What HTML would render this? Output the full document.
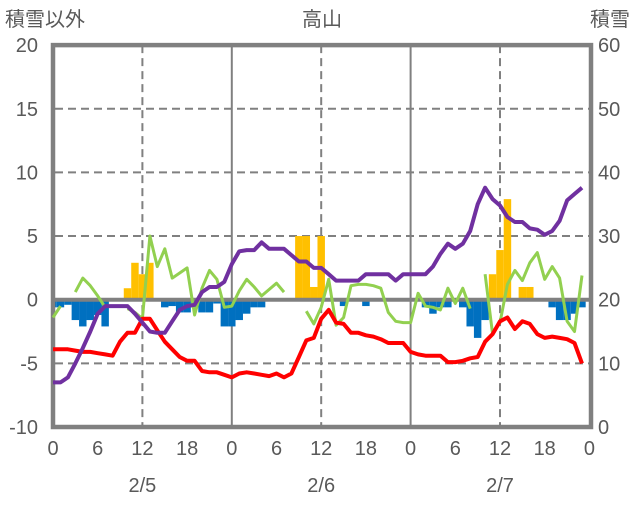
<!DOCTYPE html>
<html><head><meta charset="utf-8">
<style>
html,body{margin:0;padding:0;background:#fff;}
svg text{font-family:"Liberation Sans","Noto Sans CJK JP",sans-serif;fill:#595959;}
</style></head>
<body>
<svg id="chart" width="636" height="501" viewBox="0 0 636 501" xmlns="http://www.w3.org/2000/svg">
<g id="grid"></g>
<g id="bars"></g>
<g id="frame"></g>
<g id="lines"></g>
<g id="labels"></g>
<text x="5" y="26" font-size="20">積雪以外</text>
<text x="322" y="26" font-size="20" text-anchor="middle">高山</text>
<text x="630" y="26" font-size="20" text-anchor="end">積雪</text>
</svg>
<script>
const hours = Array.from({length:72},(_,i)=>i);
const purple = [-6.5,-6.5,-6.1,-5.0,-3.8,-2.5,-1.1,-0.5,-0.5,-0.5,-0.5,-1.1,-1.8,-2.5,-2.6,-2.6,-1.7,-0.8,-0.5,-0.4,0.6,1.0,1.0,1.4,2.8,3.8,3.9,3.9,4.5,4.0,4.0,4.0,3.5,3.0,3.0,2.5,2.5,2.0,1.5,1.5,1.5,1.5,2.0,2.0,2.0,2.0,1.5,2.0,2.0,2.0,2.0,2.6,3.6,4.4,4.0,4.4,5.4,7.5,8.8,7.9,7.4,6.5,6.1,6.1,5.6,5.5,5.1,5.4,6.2,7.8,8.3,8.8];
const red = [-3.9,-3.9,-3.9,-4.0,-4.1,-4.1,-4.2,-4.3,-4.4,-3.3,-2.6,-2.6,-1.5,-1.5,-2.4,-3.3,-3.9,-4.5,-4.8,-4.8,-5.6,-5.7,-5.7,-5.9,-6.1,-5.8,-5.7,-5.8,-5.9,-6.0,-5.8,-6.1,-5.8,-4.5,-3.2,-3.0,-1.5,-0.8,-1.8,-1.9,-2.6,-2.6,-2.8,-2.9,-3.1,-3.4,-3.4,-3.4,-4.1,-4.3,-4.4,-4.4,-4.4,-4.9,-4.9,-4.8,-4.6,-4.5,-3.3,-2.7,-1.7,-1.4,-2.3,-1.7,-1.9,-2.7,-3.0,-2.9,-3.0,-3.1,-3.4,-5.0];
const green = [-1.4,-0.5,null,0.6,1.7,1.1,0.3,-0.6,null,null,-0.7,-1.0,-1.5,5.0,2.6,4.0,1.7,2.1,2.5,-1.2,0.9,2.3,1.6,-0.6,-0.5,0.7,1.6,1.0,0.3,0.8,1.3,0.6,null,null,-0.9,-1.9,-0.6,1.6,-2.0,-1.4,1.1,1.2,1.2,1.1,0.9,-1.0,-1.7,-1.8,-1.8,0.5,-0.5,-0.6,-0.8,0.9,-0.3,0.9,-0.7,null,2.0,-2.7,-1.8,1.2,2.3,1.5,2.9,3.7,1.6,2.6,1.7,-1.7,-2.5,1.9];
const blue = [-0.6,-0.6,-0.4,-1.6,-2.1,-1.6,-1.2,-2.1,0,0,0,0,0,0,0,-0.6,-0.5,-1.0,-1.0,-0.6,-1.0,-1.0,-0.3,-2.1,-2.1,-1.6,-1.1,-0.6,-0.6,0,0,0,0,0,0,0,0,0,0,-0.5,0,0,-0.5,0,0,0,0,0,0,0,-0.6,-1.1,-0.6,-0.6,0,-0.6,-2.1,-3.0,-1.6,0,0,0,0,0,0,0,0,-0.6,-1.6,-1.6,-1.1,-0.6];
const orange = [0,0,0,0,0,0,0,0,0,0,0.9,2.9,2.0,2.9,0,0,0,0,0,0,0,0,0,0,0,0,0,0,0,0,0,0,0,5.0,5.0,1.0,5.0,0,0,0,0,0,0,0,0,0,0,0,0,0,0,0,0,0,0,0,0,0,0,2.0,3.9,7.9,0,1.0,1.0,0,0,0,0,0,0,0];
const leftTicks = [20,15,10,5,0,-5,-10];
const rightTicks = [60,50,40,30,20,10,0];
const xTickLabels = ['0','6','12','18','0','6','12','18','0','6','12','18','0'];
const dateLabels = ['2/5','2/6','2/7'];

const NS='http://www.w3.org/2000/svg';
const X0=53, PX=7.45, L=55, R=590;
const x = h => X0 + h*PX;
const y = v => 299.7 - v*12.73;
function mk(tag, attrs, parent){const e=document.createElementNS(NS,tag);for(const k in attrs)e.setAttribute(k,attrs[k]);parent.appendChild(e);return e;}
const grid=document.getElementById('grid'), bars=document.getElementById('bars'), frame=document.getElementById('frame'), lines=document.getElementById('lines'), labels=document.getElementById('labels');

[15,10,5,-5].forEach(v=>{
  const l=mk('line',{x1:L,x2:R,y1:y(v),y2:y(v),stroke:'#808080','stroke-width':2,'stroke-dasharray':'8,5'},grid);
  
  
});
[12,36,60].forEach(h=>{
  const l=mk('line',{x1:x(h),x2:x(h),y1:y(20),y2:y(-10),stroke:'#808080','stroke-width':2,'stroke-dasharray':'8,5'},grid);
  
  
});
[24,48].forEach(h=>{
  const l=mk('line',{x1:x(h),x2:x(h),y1:y(20),y2:y(-10),stroke:'#808080','stroke-width':2},grid);
  
  
});

function bar(v,h,color,name){
  if(!v) return;
  let x1=Math.max(L,x(h)-PX/2), x2=Math.min(R,x(h)+PX/2);
  const r=mk('rect',{x:x1,y:Math.min(y(0),y(v)),width:x2-x1,height:Math.abs(y(v)-y(0)),fill:color},bars);
  
  
}
hours.forEach(h=>{bar(blue[h],h,'#0070C0','precip-bar');bar(orange[h],h,'#FFC000','snow-bar');});

const zl=mk('line',{x1:L,x2:R,y1:y(0),y2:y(0),stroke:'#808080','stroke-width':4},frame);


const fr=mk('rect',{x:53,y:y(20),width:R+1-53,height:y(-10)-y(20),fill:'none',stroke:'#808080','stroke-width':4.5},frame);



function series(arr,color,name){
  let d='',pen=false;
  arr.forEach((v,h)=>{ if(v===null){pen=false;return;} d+=(pen?'L':'M')+x(h).toFixed(1)+','+y(v).toFixed(1)+' '; pen=true;});
  const p=mk('path',{d:d,fill:'none',stroke:color,'stroke-width':name==='green-line'?3:4,'stroke-linejoin':'round'},lines);
  
  
}
series(green,'#92D050','green-line');
series(red,'#FF0000','red-line');
series(purple,'#7030A0','purple-line');

leftTicks.forEach(v=>{
  const t=mk('text',{x:38,y:y(v)+7,'font-size':20,'text-anchor':'end'},labels);t.textContent=v;
  
  
});
rightTicks.forEach(v=>{
  const t=mk('text',{x:598,y:y((v-20)/2)+7,'font-size':20},labels);t.textContent=v;
  
  
});
xTickLabels.forEach((s,i)=>{
  const t=mk('text',{x:x(i*6),y:455,'font-size':20,'text-anchor':'middle'},labels);t.textContent=s;
  
  
});
dateLabels.forEach((s,i)=>{
  const t=mk('text',{x:x(12+24*i),y:492,'font-size':20,'text-anchor':'middle'},labels);t.textContent=s;
  
  
});
</script>
</body></html>
